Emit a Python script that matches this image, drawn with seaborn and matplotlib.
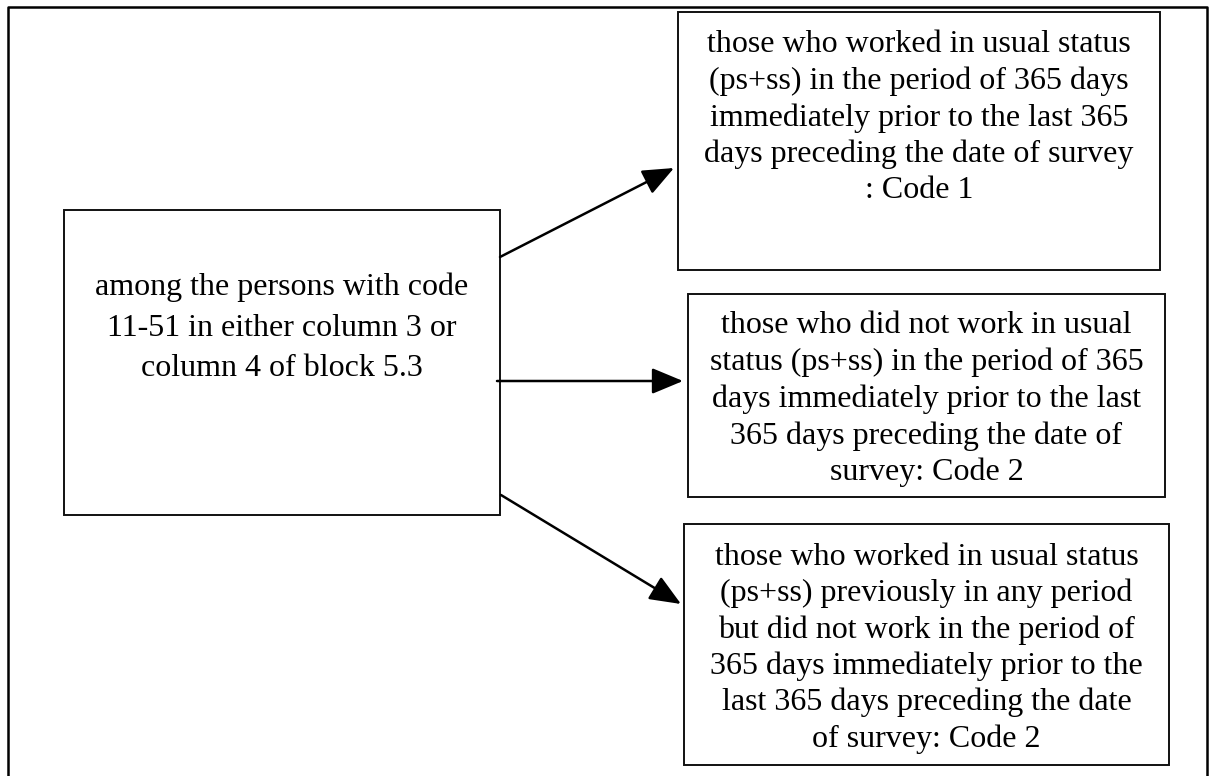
import matplotlib
matplotlib.use("Agg")
import matplotlib.pyplot as plt
from matplotlib.patches import Rectangle, FancyArrowPatch
import seaborn as sns

# box texts (one string per line)
source_lines = ["among the persons with code",
                "11-51 in either column 3 or",
                "column 4 of block 5.3"]
code1_lines = ["those who worked in usual status",
               "(ps+ss) in the period of 365 days",
               "immediately prior to the last 365",
               "days preceding the date of survey",
               ": Code 1"]
code2a_lines = ["those who did not work in usual",
                "status (ps+ss) in the period of 365",
                "days immediately prior to the last",
                "365 days preceding the date of",
                "survey: Code 2"]
code2b_lines = ["those who worked in usual status",
                "(ps+ss) previously in any period",
                "but did not work in the period of",
                "365 days immediately prior to the",
                "last 365 days preceding the date",
                "of survey: Code 2"]

# layout in pixel units (x0, y0, x1, y1), text centre y, line spacing
boxes = [
    (64, 210, 500, 515, 328, 41, source_lines),
    (678, 12, 1160, 270, 118, 36.5, code1_lines),
    (688, 294, 1165, 497, 399, 36.8, code2a_lines),
    (684, 524, 1169, 765, 648, 36.3, code2b_lines),
]
arrows = [((500, 257), (674, 168)),
          ((497, 381), (683, 381)),
          ((501, 495), (681, 604))]

sns.set_theme(style="white")
plt.rcParams['font.family'] = ['Liberation Serif', 'DejaVu Serif']

fig = plt.figure(figsize=(12.1, 7.76), dpi=100)
ax = fig.add_axes([0, 0, 1, 1])
ax.set_xlim(0, 1210)
ax.set_ylim(776, 0)
ax.axis("off")

# outer frame (bottom edge runs off the picture)
ax.plot([8, 8, 1207, 1207], [780, 7, 7, 780], color="black", lw=1.8)

for x0, y0, x1, y1, cy, sp, lines in boxes:
    ax.add_patch(Rectangle((x0, y0), x1 - x0, y1 - y0, fill=False,
                           edgecolor="#111111", lw=1.4))
    cx = (x0 + x1) / 2
    n = len(lines)
    for i, line in enumerate(lines):
        ax.text(cx, cy + (i - (n - 1) / 2) * sp, line, ha="center",
                va="center", fontsize=23, color="black")

for start, end in arrows:
    ax.add_patch(FancyArrowPatch(start, end, arrowstyle="-|>,head_length=12,head_width=5",
                                 mutation_scale=1.6, color="black", lw=1.8,
                                 shrinkA=0, shrinkB=0))

fig.savefig("out.png", dpi=100)
